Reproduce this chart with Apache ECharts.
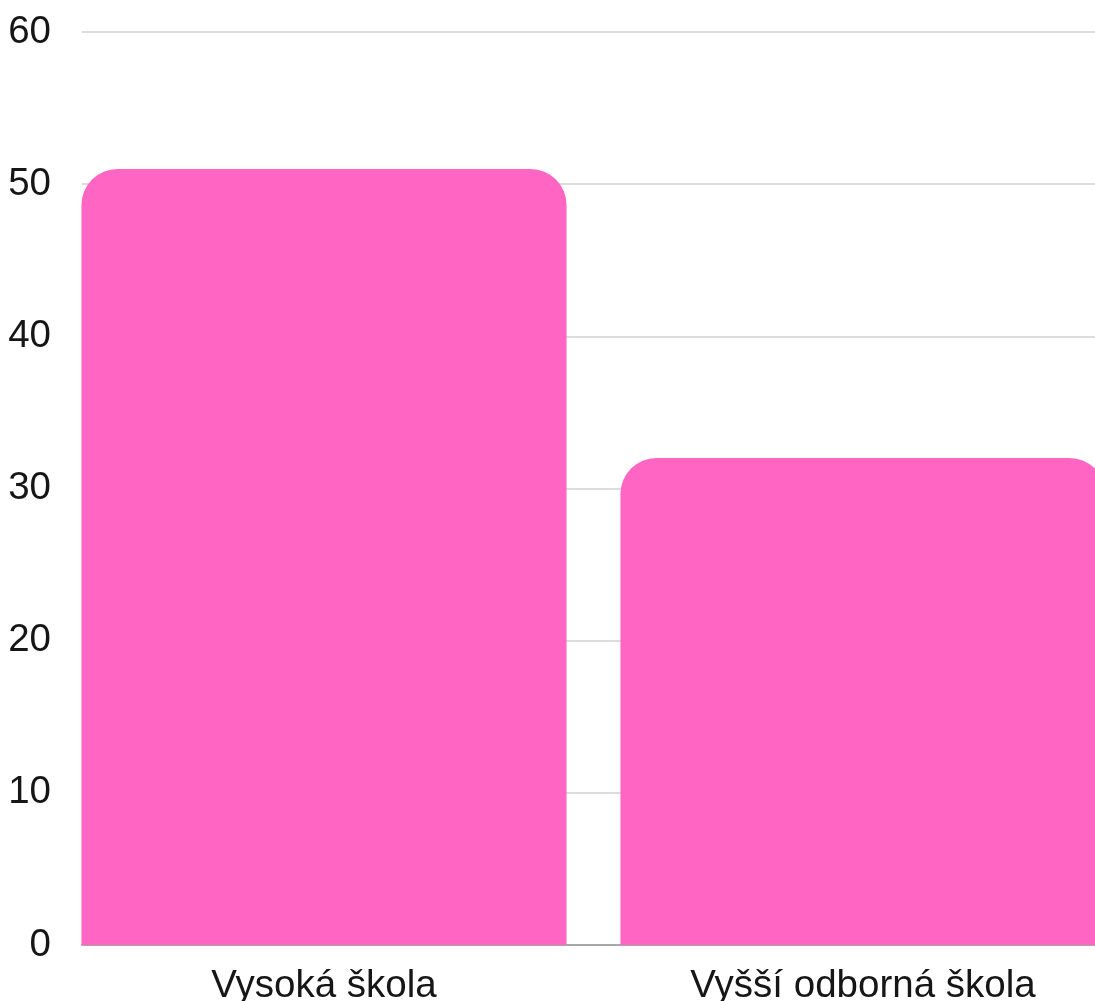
<!DOCTYPE html>
<html>
<head>
<meta charset="utf-8">
<script src="https://cdn.jsdelivr.net/npm/echarts@6/dist/echarts.min.js"></script>
<style>
html,body{margin:0;padding:0;background:#fff;}
#chart{width:1095px;height:1001px;}
</style>
</head>
<body>
<div id="chart"></div>
<script>
const categories = ['Vysoká škola', 'Vyšší odborná škola'];
const values = [51, 32];
const yMin = 0, yMax = 60, yStep = 10;

const chart = echarts.init(document.getElementById('chart'), null, {renderer: 'canvas'});
const font = '"Liberation Sans", Arial, sans-serif';
chart.setOption({
  animation: false,
  backgroundColor: '#ffffff',
  grid: [
    {left: 82, right: 0, top: 32, bottom: 56, containLabel: false, outerBoundsMode: 'none'},
    {left: 54.5, width: 1078, top: 32, bottom: 56, containLabel: false, outerBoundsMode: 'none'}
  ],
  xAxis: [
    {type: 'category', gridIndex: 0, data: categories,
     axisLine: {show: true, lineStyle: {color: '#a8a8a8', width: 2}},
     axisTick: {show: false}, axisLabel: {show: false}, splitLine: {show: false}},
    {type: 'category', gridIndex: 1, data: categories, boundaryGap: true,
     axisLine: {show: false}, axisTick: {show: false},
     axisLabel: {show: true, fontSize: 38.5, color: '#161616', fontFamily: font, margin: 22}}
  ],
  yAxis: [
    {type: 'value', gridIndex: 0, min: yMin, max: yMax, interval: yStep,
     axisLine: {show: false}, axisTick: {show: false},
     axisLabel: {fontSize: 38.5, color: '#161616', fontFamily: font, margin: 31},
     splitLine: {show: true, lineStyle: {color: '#dcdcdc', width: 2}}},
    {type: 'value', gridIndex: 1, min: yMin, max: yMax, interval: yStep, show: false,
     splitLine: {show: false}}
  ],
  series: [{
    type: 'bar', xAxisIndex: 1, yAxisIndex: 1, data: values,
    barCategoryGap: '10%',
    itemStyle: {color: '#ff66c4', borderRadius: [36, 36, 0, 0]}
  }]
});
</script>
</body>
</html>
